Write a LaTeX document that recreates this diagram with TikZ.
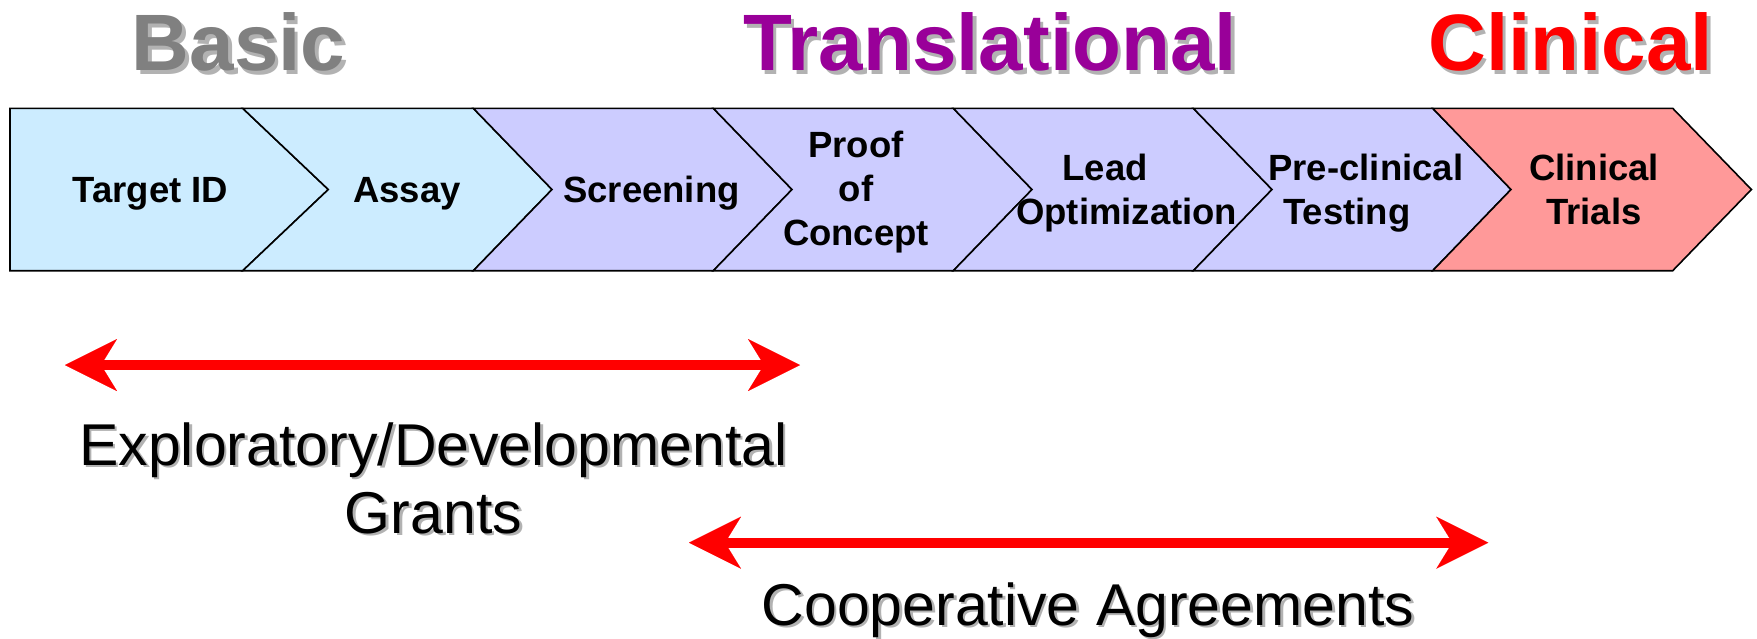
\documentclass[tikz,border=0pt]{standalone}
\usepackage{fontspec}
\setmainfont{Liberation Sans}
\usetikzlibrary{arrows.meta}
\definecolor{basicblue}{HTML}{CCECFF}
\definecolor{translav}{HTML}{CCCCFF}
\definecolor{clinpink}{HTML}{FF9999}
\definecolor{headgray}{HTML}{808080}
\definecolor{headpurple}{HTML}{990099}
\definecolor{headred}{HTML}{FF0000}
\definecolor{shadowc}{HTML}{B2B2B2}
\newcommand\shadowed[3]{\rlap{\kern#3\raisebox{-#3}{\textcolor{shadowc}{#2}}}\textcolor{#1}{#2}}
\begin{document}
\begin{tikzpicture}[x=1pt,y=-1pt,
  stage/.style={draw=black,line width=1.6pt,line join=miter},
  heading/.style={font=\fontsize{80}{92}\selectfont\bfseries,anchor=base,inner sep=0pt},
  steplabel/.style={font=\fontsize{36.5}{44}\selectfont\bfseries,anchor=base,inner sep=0pt},
  grantlabel/.style={font=\fontsize{59}{68}\selectfont,anchor=base,inner sep=0pt},
  spanarrow/.style={draw=red,line width=10pt,
    {Stealth[length=52pt,width=52pt,inset=16pt,line width=0.01pt]}-{Stealth[length=52pt,width=52pt,inset=16pt,line width=0.01pt]}}
]
\useasboundingbox (0,0) rectangle (1757,638);

% stages
\path[stage,fill=basicblue] (10,108.3)--(242.7,108.3)--(328.3,189.5)--(242.7,270.7)--(10,270.7)--cycle;
\path[stage,fill=basicblue] (242.7,108.3)--(473.3,108.3)--(552,189.5)--(473.3,270.7)--(242.7,270.7)--(328.3,189.5)--cycle;
\path[stage,fill=translav] (473.3,108.3)--(713.3,108.3)--(792,189.5)--(713.3,270.7)--(473.3,270.7)--(552,189.5)--cycle;
\path[stage,fill=translav] (713.3,108.3)--(953.3,108.3)--(1032,189.5)--(953.3,270.7)--(713.3,270.7)--(792,189.5)--cycle;
\path[stage,fill=translav] (953.3,108.3)--(1193.3,108.3)--(1272,189.5)--(1193.3,270.7)--(953.3,270.7)--(1032,189.5)--cycle;
\path[stage,fill=translav] (1193.3,108.3)--(1432.7,108.3)--(1511,189.5)--(1432.7,270.7)--(1193.3,270.7)--(1272,189.5)--cycle;
\path[stage,fill=clinpink] (1432.7,108.3)--(1672.7,108.3)--(1751.4,189.5)--(1672.7,270.7)--(1432.7,270.7)--(1511,189.5)--cycle;

% headings
\node[heading] (basic) at (238.5,70.7) {\shadowed{headgray}{Basic}{3.5pt}};
\node[heading] (transl) at (990,70.7) {\shadowed{headpurple}{Translational}{3.5pt}};
\node[heading] (clin) at (1570.5,70.7) {\shadowed{headred}{Clinical}{3.5pt}};

% stage labels
\node[steplabel] (target) at (150.5,202.7) {Target ID};
\node[steplabel] (assay) at (407,202.7) {Assay};
\node[steplabel] (screen) at (651.4,202.7) {Screening};
\node[steplabel] (proof) at (856,157.7) {\begin{tabular}[t]{@{}c@{}}Proof\\of\\Concept\end{tabular}};
\node[steplabel] (lead) at (1126.7,180.7) {\begin{tabular}[t]{@{}c@{}}Lead\kern43pt\\Optimization\end{tabular}};
\node[steplabel] (precl) at (1365.8,180.7) {\begin{tabular}[t]{@{}c@{}}Pre-clinical\\Testing\kern38pt\end{tabular}};
\node[steplabel] (trials) at (1594,180) {\begin{tabular}[t]{@{}c@{}}Clinical\\Trials\end{tabular}};

% funding spans
\coordinate (a1l) at (65,365);
\coordinate (a1r) at (800,365);
\coordinate (a2l) at (689,542.7);
\coordinate (a2r) at (1488.3,542.7);
\draw[spanarrow] (a1l) -- (a1r);
\draw[spanarrow] (a2l) -- (a2r);

\node[grantlabel] (expl) at (433.5,465) {\begin{tabular}[t]{@{}c@{}}\shadowed{black}{Exploratory/Developmental}{2.5pt}\\\shadowed{black}{Grants}{2.5pt}\end{tabular}};
\node[grantlabel] (coop) at (1088,625) {\shadowed{black}{Cooperative Agreements}{2.5pt}};
\end{tikzpicture}
\end{document}
